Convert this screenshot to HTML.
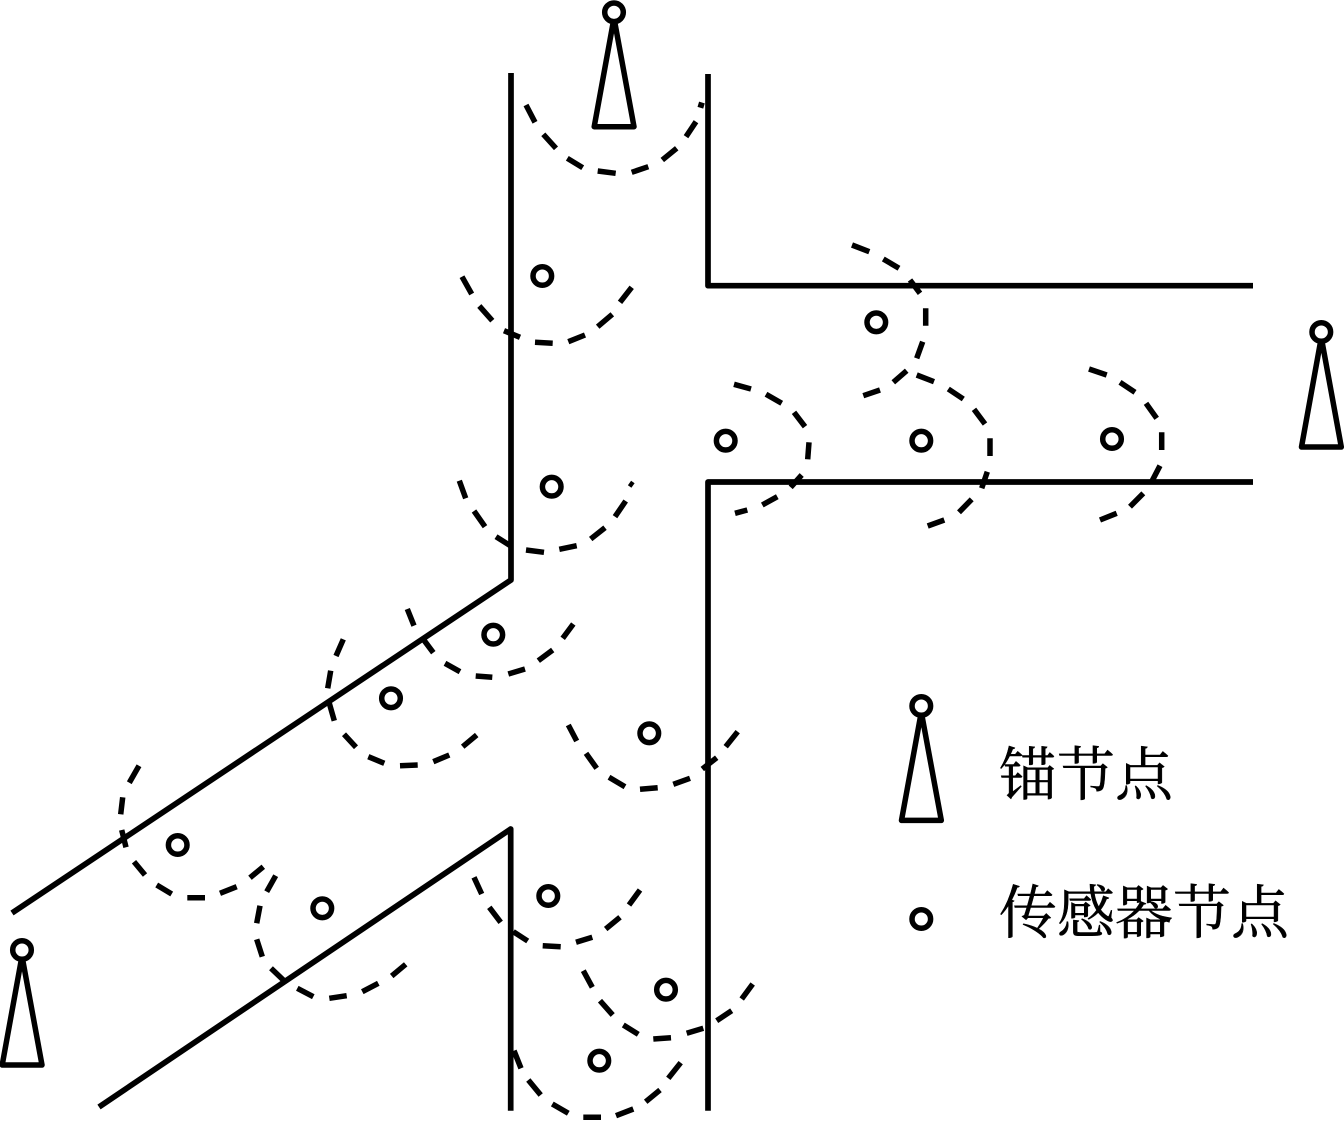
<!DOCTYPE html>
<html lang="zh">
<head>
<meta charset="utf-8">
<title>Diagram</title>
<style>
html,body{margin:0;padding:0;background:#fff}
svg{display:block}
text{font-family:"Liberation Serif","Noto Serif CJK SC",serif;font-size:58px;fill:#000;stroke:#000;stroke-width:.5px}
</style>
</head>
<body>
<svg width="1344" height="1122" viewBox="0 0 1344 1122" xmlns="http://www.w3.org/2000/svg">
<g fill="none" stroke="#000" stroke-width="5.7" stroke-linejoin="round">
  <path d="M511 73V580L12 913"/>
  <path d="M708 74V285.7H1253"/>
  <path d="M1253 482H708V1110.7"/>
  <path d="M99 1107L510.7 829V1110.7"/>
</g>
<g fill="none" stroke="#000" stroke-width="5.5">
  <path d="M526 105L535 122.3M543.3 134.3L556 148.3M567.3 158.3L582.7 167.7M597.7 171L615.7 173.3M631.7 172.3L648.3 166.7M662.3 160L676.7 148.3M686 136.7L696 121.7M698.3 104.3L704 106"/>
  <path d="M462 276.7L471.7 294M479.3 306L492.3 320.7M504 330.7L520 337.3M535 342.3L552.7 343.3M568.3 341.7L585 335M597.7 326.7L612.3 314.3M620 302.3L631.7 287.3"/>
  <path d="M852 245L869.3 251.7M883.3 259L899 268.3M910 280L920 293.3M925.7 308.3L925.7 325.7M922.7 341.7L916.7 358.3M906.7 370.7L893.3 382.3M880 390L863.3 395.7"/>
  <path d="M734 384.3L751 389M766 394.3L781.7 403.3M794 412.3L805 426.7M809 442.3L807.7 459.3M801.7 475L790.7 487.3M777.3 496.7L762.3 505M747.3 510L735 513.3"/>
  <path d="M916.7 375L934 381.7M948.3 389L963.3 399M974 409.3L985 424M990 438.3L990 456M987.3 471.7L981.7 488.3M971.7 499.3L959 512.3M944.3 520L927.7 526"/>
  <path d="M1089 369L1106.7 375M1120 382.3L1135 392.3M1146 403.3L1156.7 418.3M1161.7 432.3L1161.7 450M1160 465.7L1151.7 481.7M1143.3 493.3L1130 506.7M1116.7 513.3L1100 520"/>
  <path d="M459.3 480.7L465.7 498.3M474 511L485 526.7M496 536.7L510.7 546M526 550L544 552.3M559.3 549.3L576.7 545.7M590.7 539L605 527.7M615 516.7L625.7 501M629.5 483L633 485.5"/>
  <path d="M407.3 609L414 625.7M423.3 639.3L433.3 652.7M445 663.3L460 671.7M475.7 676L492.3 677.3M508.3 674L525 669M538.3 660.7L552.7 650M562.7 638.3L573.3 624"/>
  <path d="M343.3 639.3L336 656M330.7 670.7L327.7 688.3M329.3 703.3L334.3 720.7M344 734.3L356 747.3M368.3 756.7L384.3 763.3M400 765.7L417.7 765M433.3 761.7L449.3 755M462.7 746.7L476.7 735"/>
  <path d="M568.3 725L576.7 741M586 753.3L596.7 768.3M609 777.3L625 786.7M640 789.3L657.7 787.7M673.3 784.3L690 778.3M702.3 769L716.7 757.7M725.7 746.7L737.7 731.7"/>
  <path d="M139 765.7L129.3 782.7M122.7 797.3L120.7 814.3M121.7 830L126 847.3M134 861.7L145 875M156.7 885L171.7 894M187.3 897.7L205 897.7M220 893.3L236.7 886.7M250 877.7L263.3 866.7"/>
  <path d="M275.7 875.7L266.7 891.7M260 905.7L256.7 923.3M256.7 939.3L262.3 956.7M271 968.3L283.3 980M297.3 988.3L313.3 996.7M329.3 998.3L346.7 995.7M362.3 991.7L378.3 983.3M391.7 976L405.7 964.3"/>
  <path d="M474 877.3L481.7 894M489.3 907.3L500.7 922.3M513.3 931.7L527.7 941M542.7 945.7L560.7 946.7M576 942.3L592.3 937.3M605.7 929L620 917.3M629 905L640 890"/>
  <path d="M583.3 970.7L592.3 987.3M600 1000.7L612.7 1015M623.3 1025L638.3 1034.3M653.3 1039L671 1037.7M686.7 1033.3L703.3 1028.3M716.7 1020.7L731.7 1010.7M741.7 999L752.7 984"/>
  <path d="M514 1050.7L521 1068.3M528.3 1080L540.7 1095M552.3 1104L568.3 1113.3M583.3 1117.3L601 1117.3M616 1115.7L633.3 1109M645.7 1101.7L660 1090M668.3 1078.3L680.7 1062.7"/>
</g>
<g fill="#fff" stroke="#000" stroke-width="5.5">
  <circle cx="542.3" cy="276" r="9.3"/>
  <circle cx="876.3" cy="322.3" r="9.3"/>
  <circle cx="725.7" cy="440.7" r="9.3"/>
  <circle cx="921.3" cy="440.7" r="9.3"/>
  <circle cx="1112" cy="439" r="9.3"/>
  <circle cx="551.7" cy="486.7" r="9.3"/>
  <circle cx="493.3" cy="634.7" r="9.3"/>
  <circle cx="391" cy="698.3" r="9.3"/>
  <circle cx="649.3" cy="733.3" r="9.3"/>
  <circle cx="177.7" cy="845" r="9.3"/>
  <circle cx="322.3" cy="908.3" r="9.3"/>
  <circle cx="548.3" cy="896" r="9.3"/>
  <circle cx="666" cy="989.7" r="9.3"/>
  <circle cx="599.3" cy="1060.7" r="9.3"/>
  <circle cx="921.3" cy="919" r="9.3"/>
</g>
<g fill="#fff" stroke="#000" stroke-width="5.5" stroke-linejoin="round">
  <path d="M614 18L594.2 126.7H634Z"/><circle cx="614" cy="12.3" r="9.3"/>
  <path d="M1321.3 337.5L1301.5 447H1341.3Z"/><circle cx="1321.3" cy="332" r="9.3"/>
  <path d="M921.3 712L901.5 820.4H941.3Z"/><circle cx="921.3" cy="706" r="9.3"/>
  <path d="M22 956L2.2 1065H42Z"/><circle cx="22" cy="950" r="9.3"/>
</g>
<text x="999" y="795">锚节点</text>
<text x="999" y="933">传感器节点</text>
</svg>
</body>
</html>
